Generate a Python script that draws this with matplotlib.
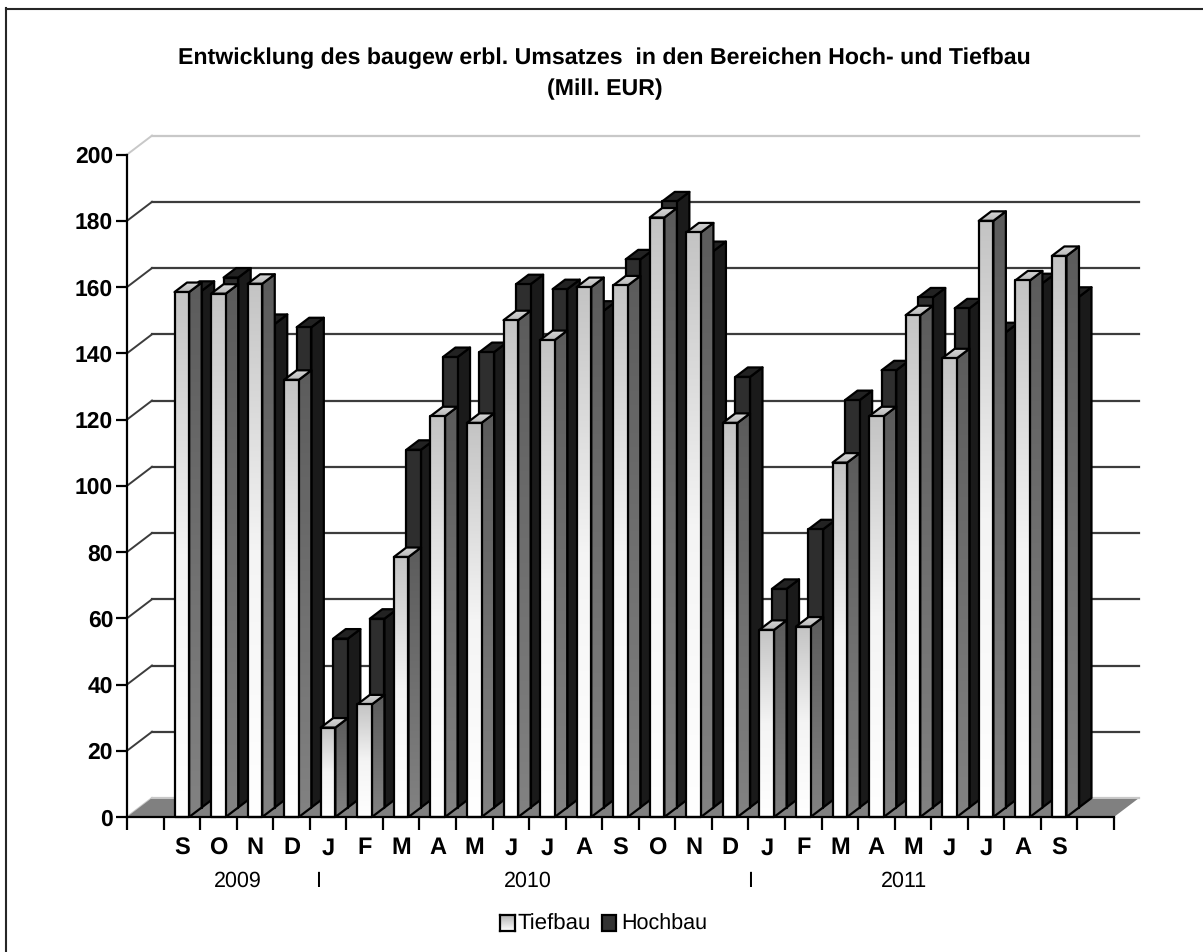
import numpy as np
import matplotlib
matplotlib.use("Agg")
import matplotlib.pyplot as plt
from matplotlib.colors import LinearSegmentedColormap
from matplotlib.lines import Line2D
from matplotlib.patches import Polygon, Rectangle

months = ['S', 'O', 'N', 'D', 'J', 'F', 'M', 'A', 'M', 'J', 'J', 'A', 'S', 'O', 'N', 'D',
          'J', 'F', 'M', 'A', 'M', 'J', 'J', 'A', 'S']
tiefbau = [158.5, 158, 161, 132, 27, 34, 78.5, 121, 119, 150, 144, 160, 160.5, 181, 176.5, 119,
           56.5, 57.5, 107, 121, 151.5, 138.5, 180, 162, 169.4]
hochbau = [156, 160, 146, 145, 51, 57, 108, 136, 137.5, 158, 156.5, 150, 165.5, 183, 168, 130,
           66, 84, 123, 132, 154, 150.7, 143.5, 158.3, 154.2]
yticks = list(range(0, 201, 20))
years = [('2009', 238), ('I', 318), ('2010', 528), ('I', 750), ('2011', 904)]

W, H = 1203, 952
plt.rcParams['font.family'] = ['Liberation Sans', 'DejaVu Sans']
plt.rcParams['text.hinting'] = 'no_hinting'

fig = plt.figure(figsize=(W / 100, H / 100), dpi=100)
ax = fig.add_axes([127 / W, (H - 817) / H, 987 / W, 662.4 / H])
ax.set_xlim(0, 27)
ax.set_ylim(0, 200)
ax.patch.set_alpha(0)

# depth of the 3d box, in data units
depth_x = 25 / 36.55
depth_y = 19 / 3.312
bar_w = 0.40

front_t = LinearSegmentedColormap.from_list('ft', ['#ffffff', '#f4f4f4', '#c4c4c4'])
side_t = LinearSegmentedColormap.from_list('st', ['#828282', '#5c5c5c'])
top_t = LinearSegmentedColormap.from_list('tt', ['#b8b8b8', '#d8d8d8'])
grad = np.linspace(1, 0, 128).reshape(-1, 1)


def face(points, color, z, cmap=None):
    # flat polygon, or a vertical gradient clipped to the polygon
    xs = [p[0] for p in points]
    ys = [p[1] for p in points]
    if cmap is None:
        ax.add_patch(Polygon(points, closed=True, fc=color, ec='black', lw=1.6, zorder=z,
                             clip_on=False, joinstyle='round'))
        return
    poly = Polygon(points, closed=True, fc='none', ec='black', lw=1.6, zorder=z + 0.5,
                   clip_on=False, joinstyle='round')
    ax.add_patch(poly)
    im = ax.imshow(grad, cmap=cmap, vmin=0, vmax=1, aspect='auto', zorder=z,
                   extent=[min(xs), max(xs), min(ys), max(ys)], interpolation='bilinear')
    im.set_clip_path(poly)


def bar3d(x0, val, base_x, base_y, z, front, side, top):
    l = x0 + base_x
    r = l + bar_w
    b = base_y
    dx = depth_x / 2
    dy = depth_y / 2
    t = val + base_y
    face([(r, b), (r + dx, b + dy), (r + dx, t + dy), (r, t)], side[0], z, side[1])
    face([(l, t), (r, t), (r + dx, t + dy), (l + dx, t + dy)], top[0], z + 1, top[1])
    face([(l, b), (r, b), (r, t), (l, t)], front[0], z + 2, front[1])


# walls and floor
for v in yticks:
    light = v in (0, 200)
    col = '#c8c8c8' if light else '#3c3c3c'
    ax.plot([0, depth_x], [v, v + depth_y], color=col, lw=1.4, clip_on=False, zorder=1)
    ax.plot([depth_x, 27 + depth_x], [v + depth_y, v + depth_y], color=col, lw=1.6,
            clip_on=False, zorder=1)
ax.add_patch(Polygon([(0, 0), (depth_x, depth_y), (27 + depth_x, depth_y), (27, 0)],
                     closed=True, fc='#808080', ec='none', clip_on=False, zorder=2))
ax.plot([depth_x, 27 + depth_x], [depth_y, depth_y], color='#c8c8c8', lw=1.4,
        clip_on=False, zorder=2)

# rear row first, then the front row
centers = [i + 1.5 for i in range(len(months))]
z = 10
for c, v in zip(centers, hochbau):
    bar3d(c - bar_w / 2, v, depth_x / 2, depth_y / 2, z,
          ('#2e2e2e', None), ('#1a1a1a', None), ('#222222', None))
    z += 5
for c, v in zip(centers, tiefbau):
    bar3d(c - bar_w / 2, v, 0, 0, z,
          (None, front_t), (None, side_t), (None, top_t))
    z += 5

ax.set_xlim(0, 27)
ax.set_ylim(0, 200)

# axes
for s in ('top', 'right'):
    ax.spines[s].set_visible(False)
for s in ('left', 'bottom'):
    ax.spines[s].set_linewidth(1.6)
    ax.spines[s].set_zorder(1000)
ax.set_yticks(yticks)
ax.set_yticklabels([str(v) for v in yticks], fontsize=16.5, fontweight='bold')
ax.tick_params(axis='y', length=8, width=1.6, pad=2)
ax.set_xticks(range(0, 28))
ax.set_xticklabels([])
ax.tick_params(axis='x', length=9, width=1.6)
ax.set_xticks(centers, minor=True)
ax.set_xticklabels(months, minor=True, fontsize=17, fontweight='bold', va='baseline')
ax.tick_params(axis='x', which='minor', length=0, pad=27)


def px_text(x, y, s, **kw):
    fig.text(x / W, 1 - y / H, s, ha='center', va='center', **kw)


for s, x in years:
    px_text(x, 881, s, fontsize=15.5)

px_text(604.5, 58, 'Entwicklung des baugew erbl. Umsatzes  in den Bereichen Hoch- und Tiefbau',
        fontsize=16.7, fontweight='bold')
px_text(604.5, 89, '(Mill. EUR)', fontsize=16.7, fontweight='bold')

# legend
swatch = fig.add_axes([500 / W, 1 - 931 / H, 15 / W, 16 / H])
swatch.imshow(np.linspace(0, 1, 32).reshape(-1, 1), cmap=LinearSegmentedColormap.from_list(
    'sw', ['#b4b4b4', '#ffffff']), aspect='auto', vmin=0, vmax=1)
swatch.set_xticks([])
swatch.set_yticks([])
for sp in swatch.spines.values():
    sp.set_linewidth(1.6)
fig.add_artist(Rectangle((602 / W, 1 - 931 / H), 14 / W, 16 / H, transform=fig.transFigure,
                         fc='#333333', ec='black', lw=1.6))
fig.text(518 / W, 1 - 924 / H, 'Tiefbau', ha='left', va='center', fontsize=16)
fig.text(621 / W, 1 - 924 / H, 'Hochbau', ha='left', va='center', fontsize=15.5)

# outer frame, only top and left are inside the image
fig.add_artist(Line2D([5.5 / W, 1], [1 - 8.8 / H, 1 - 8.8 / H], transform=fig.transFigure,
                      color='#262626', lw=1.5))
fig.add_artist(Line2D([5.8 / W, 5.8 / W], [0, 1 - 8 / H], transform=fig.transFigure,
                      color='#262626', lw=1.5))

fig.savefig('out.png', dpi=100)
